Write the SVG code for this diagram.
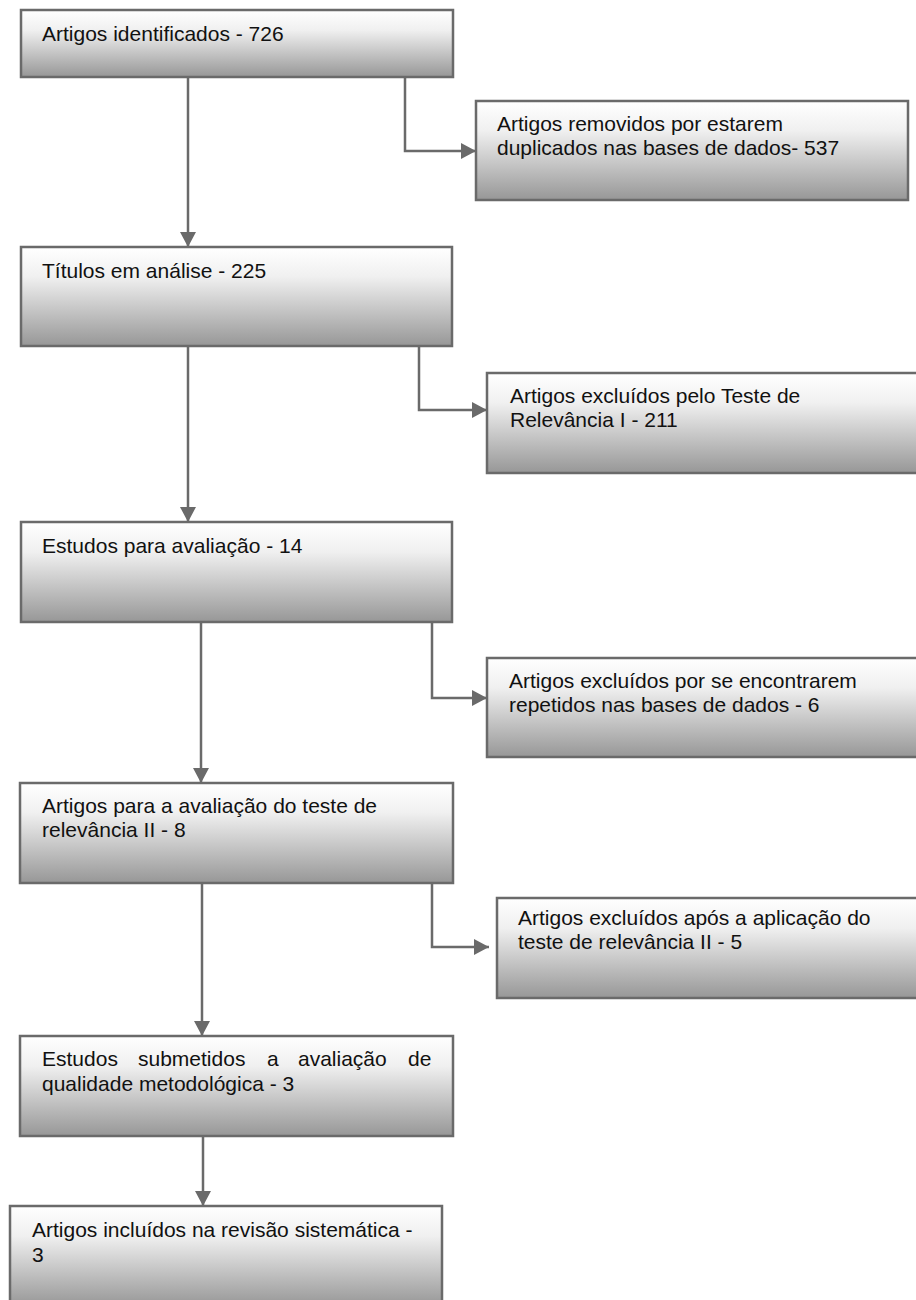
<svg xmlns="http://www.w3.org/2000/svg" width="916" height="1300" viewBox="0 0 916 1300">
<defs>
<linearGradient id="g" x1="0" y1="0" x2="0" y2="1">
<stop offset="0" stop-color="#ffffff"/>
<stop offset="0.3" stop-color="#f0f0f0"/>
<stop offset="1" stop-color="#979797"/>
</linearGradient>
<marker id="ah" markerUnits="userSpaceOnUse" markerWidth="16" markerHeight="16" refX="15" refY="8" orient="auto">
<path d="M0,0 L15,8 L0,16 z" fill="#6a6a6a"/>
</marker>
<style>
.box{fill:url(#g);stroke:#6a6a6a;stroke-width:2.5}
.t{font-family:"Liberation Sans",Arial,sans-serif;font-size:21px;fill:#111}
.c{fill:none;stroke:#6a6a6a;stroke-width:2.5;marker-end:url(#ah)}
</style>
</defs>
<rect width="916" height="1300" fill="#ffffff"/>
<g id="connectors">
<path class="c" d="M188,77 V247"/>
<path class="c" d="M405,77 V151 H476"/>
<path class="c" d="M188,346 V522"/>
<path class="c" d="M419,346 V410 H487"/>
<path class="c" d="M201,622 V783"/>
<path class="c" d="M432,622 V698 H487"/>
<path class="c" d="M202,883 V1036"/>
<path class="c" d="M432,883 V947 H489"/>
<path class="c" d="M203,1136 V1206"/>
</g>
<g id="n1"><rect class="box" x="21" y="10" width="432" height="67"/><text class="t" x="42" y="41">Artigos identificados - 726</text></g>
<g id="n2"><rect class="box" x="476" y="101" width="432" height="99"/><text class="t" x="497" y="131">Artigos removidos por estarem</text><text class="t" x="497" y="155">duplicados nas bases de dados- 537</text></g>
<g id="n3"><rect class="box" x="21" y="247" width="431" height="99"/><text class="t" x="42" y="278">Títulos em análise - 225</text></g>
<g id="n4"><rect class="box" x="487" y="373" width="440" height="100"/><text class="t" x="510" y="403">Artigos excluídos pelo Teste de</text><text class="t" x="510" y="427">Relevância I - 211</text></g>
<g id="n5"><rect class="box" x="21" y="522" width="431" height="100"/><text class="t" x="42" y="553">Estudos para avaliação - 14</text></g>
<g id="n6"><rect class="box" x="487" y="658" width="440" height="99"/><text class="t" x="509" y="688">Artigos excluídos por se encontrarem</text><text class="t" x="509" y="712">repetidos nas bases de dados - 6</text></g>
<g id="n7"><rect class="box" x="20" y="783" width="433" height="100"/><text class="t" x="42" y="813">Artigos para a avaliação do teste de</text><text class="t" x="42" y="837">relevância II - 8</text></g>
<g id="n8"><rect class="box" x="497" y="898" width="430" height="100"/><text class="t" x="518" y="925">Artigos excluídos após a aplicação do</text><text class="t" x="518" y="949">teste de relevância II - 5</text></g>
<g id="n9"><rect class="box" x="20" y="1036" width="433" height="100"/><text class="t" y="1066"><tspan x="42">Estudos</tspan><tspan x="138">submetidos</tspan><tspan x="267">a</tspan><tspan x="298">avaliação</tspan><tspan x="408">de</tspan></text><text class="t" x="42" y="1091">qualidade metodológica - 3</text></g>
<g id="n10"><rect class="box" x="10" y="1206" width="432" height="100"/><text class="t" x="32" y="1237">Artigos incluídos na revisão sistemática -</text><text class="t" x="32" y="1262">3</text></g>
</svg>
